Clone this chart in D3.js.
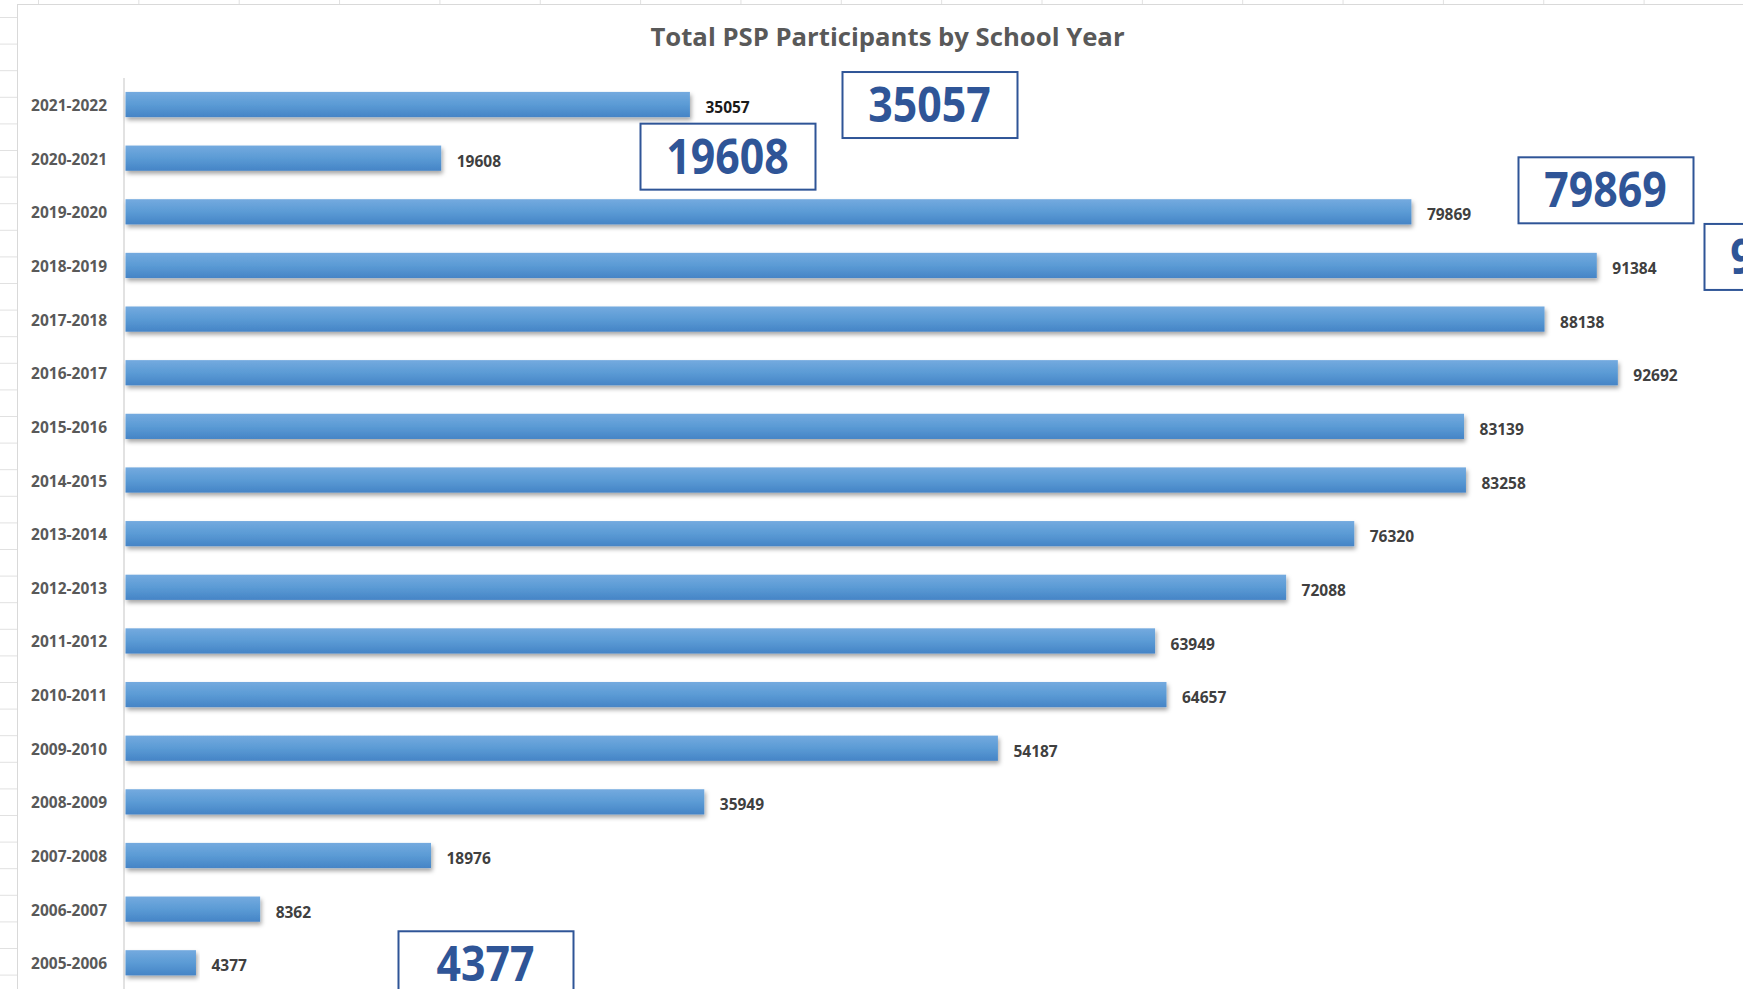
<!DOCTYPE html>
<html>
  <head>
    <meta charset="utf-8">
    <style>
      body {
        margin: 0;
        background: #fff;
      }
      svg {
        display: block;
      }
      .cat text {
        font: bold 15.5px "Open Sans", sans-serif;
        fill: #595959;
      }
      .val {
        font: bold 15.5px "Open Sans", sans-serif;
        fill: #404040;
      }
      .title {
        font: bold 25.7px "Open Sans", sans-serif;
        fill: #595959;
      }
      .note rect {
        fill: #fff;
        stroke: #2f5597;
        stroke-width: 2px;
      }
      .note text {
        font: bold 48px "Open Sans", sans-serif;
        fill: #2f5597;
      }
    </style>
  </head>
  <body>
    <svg></svg>
    <script src="https://cdnjs.cloudflare.com/ajax/libs/d3/7.8.5/d3.min.js"></script>
    <script>
      // school years, newest first (top of the chart)
      var years = ['2021-2022','2020-2021','2019-2020','2018-2019','2017-2018','2016-2017',
                   '2015-2016','2014-2015','2013-2014','2012-2013','2011-2012','2010-2011',
                   '2009-2010','2008-2009','2007-2008','2006-2007','2005-2006'];
      var participants = [35057, 19608, 79869, 91384, 88138, 92692,
                          83139, 83258, 76320, 72088, 63949, 64657,
                          54187, 35949, 18976, 8362, 4377];
      // pasted text boxes: which year they repeat
      var noteYears = ['2021-2022','2020-2021','2019-2020','2018-2019','2005-2006'];

      var W = 1743, H = 989;
      var svg = d3.select('svg').attr('width', W).attr('height', H);

      // spreadsheet grid behind the chart object
      var grid = svg.append('g').style('stroke', '#e1e1e1').style('stroke-width', 1);
      d3.range(38.5, W, 100.35).forEach(function(gx){
        grid.append('line').attr('x1', gx).attr('x2', gx).attr('y1', 0).attr('y2', 4);
      });
      d3.range(17.5, H, 26.6).forEach(function(gy){
        grid.append('line').attr('x1', 0).attr('x2', 17).attr('y1', gy).attr('y2', gy);
      });

      // chart area
      svg.append('rect')
         .attr('x', 17.5).attr('y', 4.5).attr('width', W).attr('height', H)
         .style('fill', '#fff').style('stroke', '#d9d9d9').style('stroke-width', 1);

      var defs = svg.append('defs');
      var grad = defs.append('linearGradient').attr('id', 'barFill')
                     .attr('x1', 0).attr('y1', 0).attr('x2', 0).attr('y2', 1);
      grad.append('stop').attr('offset', '0%').attr('stop-color', '#74aadf');
      grad.append('stop').attr('offset', '50%').attr('stop-color', '#5b9bd5');
      grad.append('stop').attr('offset', '100%').attr('stop-color', '#4584c6');
      defs.append('filter').attr('id', 'shadow')
          .attr('x', '-5%').attr('y', '-30%').attr('width', '110%').attr('height', '180%')
          .append('feDropShadow')
          .attr('dx', 1.5).attr('dy', 3).attr('stdDeviation', 2)
          .attr('flood-color', '#000').attr('flood-opacity', 0.35);

      var x = d3.scaleLinear().domain([0, 100000]).range([125, 1735]),
          y = d3.scaleBand().domain(years).range([77.7, 989.6])
                .paddingInner(0.53).paddingOuter(0.265);

      svg.append('text').attr('class', 'title')
         .attr('x', 887.5).attr('y', 46).attr('text-anchor', 'middle')
         .text('Total PSP Participants by School Year');

      // category axis
      var yAxis = svg.append('g').attr('class', 'cat')
                     .attr('transform', 'translate(124,0)')
                     .call(d3.axisLeft(y).tickSize(0).tickPadding(17));
      yAxis.select('.domain').remove();
      yAxis.selectAll('text').attr('dy', '0.42em');
      svg.append('line')
         .attr('x1', 124).attr('x2', 124).attr('y1', 78).attr('y2', H)
         .style('stroke', '#d9d9d9').style('stroke-width', 1.5);

      var rows = years.map(function(d, i){ return {year: d, value: participants[i]}; });

      svg.append('g').selectAll('rect').data(rows).enter().append('rect')
         .attr('x', x(0) + 0.5)
         .attr('y', function(d){ return y(d.year); })
         .attr('width', function(d){ return x(d.value) - x(0); })
         .attr('height', y.bandwidth())
         .style('fill', 'url(#barFill)')
         .attr('filter', 'url(#shadow)');

      svg.append('g').selectAll('text').data(rows).enter().append('text')
         .attr('class', 'val')
         .attr('x', function(d){ return x(d.value) + 16; })
         .attr('y', function(d){ return y(d.year) + y.bandwidth() / 2 + 3; })
         .attr('dy', '0.36em')
         .style('fill', function(d, i){ return i === 0 ? '#1a1a1a' : null; })
         .text(function(d){ return d.value; });

      // text boxes dropped onto the chart by hand
      var noteOffsets = [[842, -33], [640, -35], [1518, -55], [1704, -42], [398, -32]];
      var notes = svg.append('g').selectAll('g').data(noteYears).enter().append('g')
         .attr('class', 'note')
         .attr('transform', function(d, i){
           var o = noteOffsets[i];
           return 'translate(' + o[0] + ',' + (y(d) + y.bandwidth() / 2 + o[1]) + ')';
         });
      notes.append('rect').attr('x', 0.5).attr('y', 0.5).attr('width', 175).attr('height', 66);
      notes.append('text')
         .attr('x', 87.5).attr('y', 50.5).attr('text-anchor', 'middle')
         .attr('textLength', function(d){ return participants[years.indexOf(d)].toString().length * 24.5; })
         .attr('lengthAdjust', 'spacingAndGlyphs')
         .text(function(d){ return participants[years.indexOf(d)]; });
    </script>
  </body>
</html>
